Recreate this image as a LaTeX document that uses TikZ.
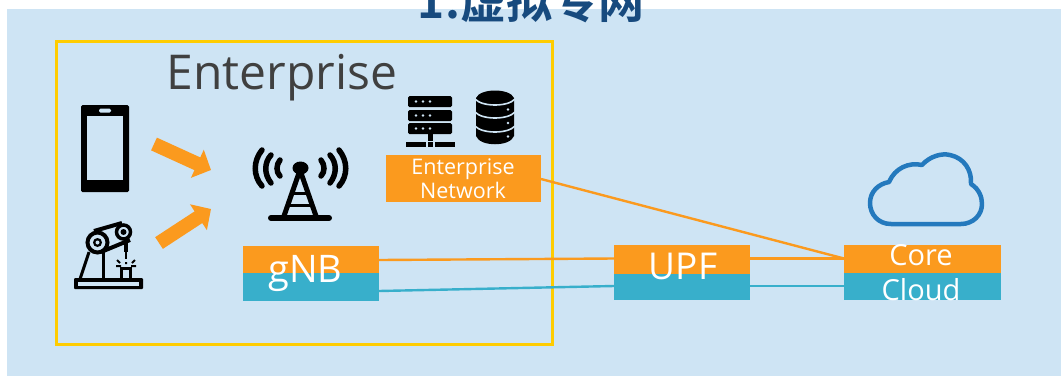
\documentclass[tikz,border=0pt]{standalone}
\usepackage{fontspec}
\setmainfont{Open Sans}
\newfontfamily\cjkf{Noto Sans CJK SC}[BoldFont={* Bold}]
\usetikzlibrary{arrows.meta}
\definecolor{bgblue}{HTML}{CEE4F4}
\definecolor{orangeb}{HTML}{FB9A1E}
\definecolor{tealb}{HTML}{38AFCB}
\definecolor{frameyl}{HTML}{FFCC00}
\definecolor{titleblue}{HTML}{174A7E}
\definecolor{cloudblue}{HTML}{2479BD}
\definecolor{txtgray}{HTML}{404040}
\tikzset{
  orangepart/.style={fill=orangeb,draw=none},
  tealpart/.style={fill=tealb,draw=none},
  boxlabel/.style={text=white,inner sep=0pt,align=center},
  linkorange/.style={draw=orangeb,line width=2.4pt},
  linkteal/.style={draw=tealb,line width=2.4pt},
  bigarrow/.style={draw=orangeb,line width=14pt,-{Triangle[length=15pt,width=30pt]}},
  blackicon/.style={fill=black,draw=none},
  iconline/.style={draw=black,line width=5.5pt,line cap=round},
}
\begin{document}
\begin{tikzpicture}[x=1pt,y=-1pt]
\useasboundingbox (0,0) rectangle (1061,376);
\clip (0,0) rectangle (1061,376);
\fill[bgblue] (7,9) rectangle (1061,376);
\node[text=titleblue,font=\bfseries\cjkf\fontsize{46}{46}\selectfont,inner sep=0pt,anchor=base] (title) at (531,18) {1.虚拟专网};
\draw[frameyl,line width=3pt] (56,41) rectangle (552,344);
\node[text=txtgray,font=\fontsize{48}{48}\selectfont,inner sep=0pt,anchor=base] (ent) at (282,89) {Enterprise};

% links
\coordinate (gnbO) at (379,260); \coordinate (gnbT) at (379,291);
\coordinate (upfOL) at (614,258.5); \coordinate (upfTL) at (614,286);
\coordinate (upfOR) at (750,258.5); \coordinate (upfTR) at (750,286);
\coordinate (coreO) at (844,258.5); \coordinate (coreT) at (844,286);
\coordinate (entR) at (541,179);
\draw[linkorange] (gnbO) -- (upfOL);
\draw[linkteal] (gnbT) -- (upfTL);
\draw[linkorange] (upfOR) -- (coreO);
\draw[linkteal] (upfTR) -- (coreT);
\draw[linkorange] (entR) -- (coreO);

% boxes
\fill[orangepart] (243,246) rectangle (379,273);
\fill[tealpart] (243,273) rectangle (379,301);
\node[boxlabel,font=\fontsize{38}{38}\selectfont,anchor=base] (gnb) at (305.5,282) {gNB};
\fill[orangepart] (614,245) rectangle (750,274);
\fill[tealpart] (614,274) rectangle (750,300);
\node[boxlabel,font=\fontsize{37}{37}\selectfont,anchor=base] (upf) at (683,279) {UPF};
\fill[orangepart] (844,245) rectangle (1001,273);
\fill[tealpart] (844,273) rectangle (1001,300);
\begin{scope}
\clip (844,240) rectangle (1001,300);
\node[boxlabel,font=\fontsize{29}{29}\selectfont,anchor=base] (core) at (921,265) {Core};
\node[boxlabel,font=\fontsize{29}{29}\selectfont,anchor=base] (cloud) at (921,300) {Cloud};
\end{scope}
\fill[orangepart] (386,155) rectangle (541,202);
\node[boxlabel,font=\fontsize{21.5}{21.5}\selectfont,anchor=base] (entnet) at (463,174) {Enterprise};
\node[boxlabel,font=\fontsize{21.5}{21.5}\selectfont,anchor=base] (entnet2) at (463,198) {Network};

% big arrows
\coordinate (a1s) at (154,144); \coordinate (a1e) at (211,170);
\coordinate (a2s) at (159,243); \coordinate (a2e) at (211,209);
\draw[bigarrow] (a1s) -- (a1e);
\draw[bigarrow] (a2s) -- (a2e);

% phone
\fill[black,rounded corners=1.5pt] (81,105) rectangle (129,192);
\fill[bgblue] (87,116) rectangle (123,180);
\fill[bgblue,rounded corners=1.5pt] (99,108.5) rectangle (111,112.5);

% robot arm
\fill[blackicon,rounded corners=1pt] (74,278) rectangle (143,289);
\fill[bgblue] (78,282) rectangle (139,286);
\draw[black,line width=3pt] (89,252) -- (80,279);
\draw[black,line width=3pt] (103,252) -- (103,279);
\draw[black,line width=4pt] (94,231) -- (122,223);
\draw[black,line width=4pt] (101,252) -- (130,240);
\draw[black,line width=4pt,fill=bgblue] (97.5,242.5) circle (10);
\draw[black,line width=3.5pt,fill=bgblue] (123.5,232) circle (7);
\fill[black] (97.5,242.5) circle (4.5);
\fill[bgblue] (97.5,242.5) circle (2);
\fill[black] (123.5,232) circle (3);
\fill[black] (124,241) rectangle (128,252);
\fill[black] (125.2,252) rectangle (126.8,259);
\draw[black,line width=2pt] (117,260) -- (120,263) (135,260) -- (132,263) (116,266) -- (121,266) (131,266) -- (136,266) (126,262) -- (126,264);
\draw[black,line width=3pt] (121.5,279) -- (121.5,268.5) -- (130.5,268.5) -- (130.5,279);

% antenna
\draw[black,line width=5pt] (300,170) -- (284,216) (300,170) -- (316,216);
\draw[black,line width=3pt] (291,193) -- (309,193) (286,205) -- (314,205);
\fill[black] (300.5,168) ellipse (8 and 6.5);
\draw[black,line width=6pt,line cap=round] (271,218) -- (329,218);
\draw[iconline] (280,160) .. controls (276,165) and (276,172) .. (280,176);
\draw[iconline] (271,155) .. controls (264,163) and (264,174) .. (271,183);
\draw[iconline] (262,150) .. controls (253,161) and (253,176) .. (262,186);
\draw[iconline] (321,160) .. controls (325,165) and (325,172) .. (321,176);
\draw[iconline] (330,155) .. controls (337,163) and (337,174) .. (330,183);
\draw[iconline] (339,150) .. controls (348,161) and (348,176) .. (339,186);

% server
\foreach \y in {96,110,123}{
  \fill[black,rounded corners=1.5pt] (408,\y) rectangle (452,\y+11);
  \foreach \x in {416,423,430}{\fill[bgblue] (\x,\y+5.5) circle (1.3);}
}
\fill[black] (428,134) rectangle (433,141);
\fill[black] (406,142) rectangle (426,147);
\fill[black] (428,142) rectangle (433,147);
\fill[black] (435,142) rectangle (455,147);

% database
\fill[black] (476,98) -- (476,136) .. controls (480,147) and (510,147) .. (514,136) -- (514,98) .. controls (510,88) and (480,88) .. (476,98) -- cycle;
\draw[bgblue,line width=1.6pt] (475,99) .. controls (482,107) and (508,107) .. (515,99);
\draw[bgblue,line width=1.6pt] (475,112) .. controls (482,120) and (508,120) .. (515,112);
\draw[bgblue,line width=1.6pt] (475,126) .. controls (482,134) and (508,134) .. (515,126);
\foreach \y in {109.5,123,136.5}{\fill[bgblue] (508,\y) circle (1.3);}

% cloud
\draw[cloudblue,line width=4.5pt,line join=round] (891,224) .. controls (878,224) and (870,214) .. (870,203) .. controls (870,192) and (878,184) .. (889,182) .. controls (895,168) and (909,162) .. (922,165) .. controls (930,156) and (942,153) .. (950,155) .. controls (964,158) and (972,170) .. (971,184) .. controls (979,189) and (982,197) .. (982,204) .. controls (982,215) and (973,224) .. (961,224) -- cycle;
\end{tikzpicture}
\end{document}
